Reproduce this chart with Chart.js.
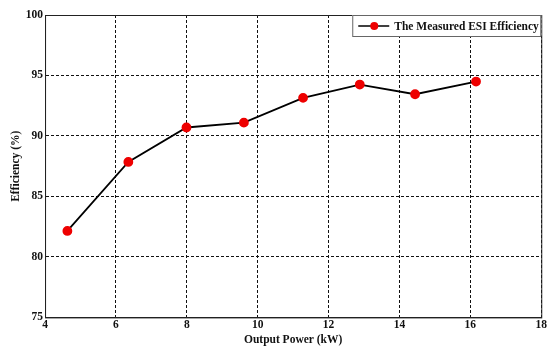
<!DOCTYPE html>
<html>
<head>
<meta charset="utf-8">
<script src="https://cdn.jsdelivr.net/npm/chart.js@4.4.0/dist/chart.umd.min.js"></script>
<style>
  html, body { margin: 0; padding: 0; background: #fff; }
  #wrap { width: 548px; height: 349px; }
</style>
</head>
<body>
<div id="wrap"><canvas id="chartEff" width="548" height="349"></canvas></div>
<script>
// dados
const outputPower = [4.63, 6.35, 7.99, 9.61, 11.28, 12.88, 14.44, 16.16];
const efficiency = [82.15, 87.85, 90.7, 91.1, 93.15, 94.25, 93.45, 94.5];
const seriesLabel = 'The Measured ESI Efficiency';
const xTicks = [4, 6, 8, 10, 12, 14, 16, 18];
const yTicks = [75, 80, 85, 90, 95, 100];

const serif = '"Liberation Serif", "DejaVu Serif", serif';

// moldura em volta da área do gráfico + legenda dentro do canto superior direito
const frameAndLegend = {
    id: 'frameAndLegend',
    afterDatasetsDraw(chart) {
        const { ctx, chartArea: a } = chart;
        ctx.save();
        ctx.strokeStyle = '#222';
        ctx.lineWidth = 1;
        ctx.setLineDash([]);
        ctx.strokeRect(a.left + 0.5, a.top + 0.5, a.right - a.left, a.bottom - a.top);

        // legenda
        const w = 189, h = 21;
        const x = a.right - w, y = a.top;
        ctx.fillStyle = '#fff';
        ctx.fillRect(x, y, w, h);
        ctx.strokeStyle = '#666';
        ctx.strokeRect(x + 0.5, y + 0.5, w - 1, h);
        ctx.strokeStyle = '#000';
        ctx.lineWidth = 1.5;
        ctx.beginPath();
        ctx.moveTo(x + 6, y + 11);
        ctx.lineTo(x + 37, y + 11);
        ctx.stroke();
        ctx.fillStyle = '#e00';
        ctx.beginPath();
        ctx.arc(x + 22, y + 11, 4, 0, Math.PI * 2);
        ctx.fill();
        ctx.fillStyle = '#111';
        ctx.font = 'bold 11.5px ' + serif;
        ctx.textBaseline = 'middle';
        ctx.fillText(seriesLabel, x + 42, y + 12);
        ctx.restore();
    }
};

const ctxEff = document.getElementById('chartEff').getContext('2d');
new Chart(ctxEff, {
    type: 'scatter',
    data: {
        datasets: [{
            label: seriesLabel,
            data: outputPower.map((p, i) => ({ x: p, y: efficiency[i] })),
            showLine: true,
            borderColor: '#000',
            borderWidth: 1.8,
            pointBackgroundColor: '#e00',
            pointBorderColor: '#e00',
            pointRadius: 4,
            tension: 0
        }]
    },
    options: {
        responsive: false,
        animation: false,
        layout: { padding: { left: 9, right: 3, top: 15, bottom: 2 } },
        plugins: {
            legend: { display: false },
            tooltip: { enabled: false }
        },
        scales: {
            x: {
                type: 'linear',
                min: 4,
                max: 18,
                afterBuildTicks: axis => { axis.ticks = xTicks.map(v => ({ value: v })); },
                grid: { color: '#111', lineWidth: 1, drawTicks: false },
                border: { display: true, color: '#222', dash: [3, 2] },
                ticks: { color: '#111', padding: 1, font: { family: serif, size: 11.5, weight: 'bold' } },
                title: { display: true, text: 'Output Power (kW)', color: '#111', padding: { top: 0, bottom: 0 },
                         font: { family: serif, size: 11.5, weight: 'bold' } }
            },
            y: {
                min: 75,
                max: 100,
                afterBuildTicks: axis => { axis.ticks = yTicks.map(v => ({ value: v })); },
                grid: { color: '#111', lineWidth: 1, drawTicks: false },
                border: { display: true, color: '#222', dash: [3, 2] },
                ticks: { color: '#111', padding: 2, font: { family: serif, size: 11.5, weight: 'bold' } },
                title: { display: true, text: 'Efficiency (%)', color: '#111', padding: { top: 0, bottom: 1 },
                         font: { family: serif, size: 11.5, weight: 'bold' } }
            }
        }
    },
    plugins: [frameAndLegend]
});
</script>
</body>
</html>
